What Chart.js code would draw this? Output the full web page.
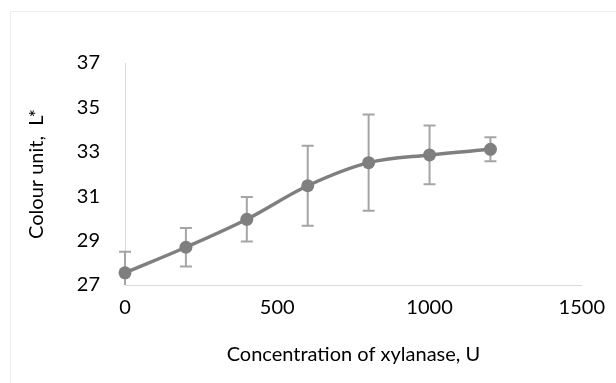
<!DOCTYPE html>
<html>
<head>
<meta charset="utf-8">
<script src="https://cdn.jsdelivr.net/npm/chart.js@4/dist/chart.umd.min.js"></script>
<style>
  html, body { margin: 0; padding: 0; background: #fff; }
  #wrap { width: 616px; height: 383px; position: relative; }
</style>
</head>
<body>
<div id="wrap"><canvas id="chart" width="616" height="383"></canvas></div>
<script>
// Data
const concentrations = [0, 200, 400, 600, 800, 1000, 1200];
const lValues = [27.55, 28.7, 29.96, 31.47, 32.51, 32.86, 33.11];
const lErrors = [0.95, 0.87, 1.0, 1.8, 2.17, 1.32, 0.54];
const xTicks = [0, 500, 1000, 1500];
const yTicks = [27, 29, 31, 33, 35, 37];

const lineGrey = '#7f7f7f';
const barGrey = '#a5a5a5';
const fontFamily = 'Lato, "Open Sans", sans-serif';

// error bars drawn through the chart scales, clipped to the plot area
const errorBars = {
  id: 'errorBars',
  beforeDatasetsDraw(chart) {
    const { ctx, chartArea, scales: { x, y } } = chart;
    ctx.save();
    ctx.beginPath();
    ctx.rect(chartArea.left - 10, chartArea.top, chartArea.right - chartArea.left + 20, chartArea.bottom - chartArea.top);
    ctx.clip();
    ctx.strokeStyle = barGrey;
    ctx.lineWidth = 2;
    concentrations.forEach((c, i) => {
      const px = x.getPixelForValue(c);
      const top = y.getPixelForValue(lValues[i] + lErrors[i]);
      const bot = y.getPixelForValue(lValues[i] - lErrors[i]);
      ctx.beginPath();
      ctx.moveTo(px, top); ctx.lineTo(px, bot);
      ctx.moveTo(px - 6, top); ctx.lineTo(px + 6, top);
      ctx.moveTo(px - 6, bot); ctx.lineTo(px + 6, bot);
      ctx.stroke();
    });
    ctx.restore();
  }
};

// faint chart border (only top-left corner visible in the crop)
const chartFrame = {
  id: 'chartFrame',
  beforeDraw(chart) {
    const ctx = chart.ctx;
    ctx.save();
    ctx.strokeStyle = '#eeeeee';
    ctx.lineWidth = 1;
    ctx.strokeRect(10.5, 11.5, 800, 600);
    ctx.restore();
  }
};

new Chart(document.getElementById('chart'), {
  type: 'scatter',
  data: {
    datasets: [{
      data: concentrations.map((c, i) => ({ x: c, y: lValues[i] })),
      showLine: true,
      borderColor: lineGrey,
      backgroundColor: lineGrey,
      borderWidth: 3.5,
      tension: 0.35,
      pointRadius: 6.5,
      pointHoverRadius: 6.5,
      pointBackgroundColor: lineGrey,
      pointBorderWidth: 0,
      clip: false
    }]
  },
  options: {
    responsive: false,
    animation: false,
    events: [],
    layout: { padding: { left: 0, top: 63, right: 22, bottom: 0 } },
    plugins: { legend: { display: false }, tooltip: { enabled: false } },
    scales: {
      x: {
        type: 'linear',
        min: 0, max: 1500,
        afterBuildTicks: s => { s.ticks = xTicks.map(v => ({ value: v })); },
        afterFit: s => { s.height = 98; },
        grid: { display: false, drawTicks: false },
        border: { display: true, color: '#d9d9d9', width: 1 },
        ticks: {
          color: '#000', padding: 11, maxRotation: 0,
          font: { family: fontFamily, size: 20 },
          callback: v => String(v)
        },
        title: {
          display: true,
          text: 'Concentration of xylanase, U',
          color: '#000',
          font: { family: fontFamily, size: 20 },
          padding: { top: 0, bottom: 16 }
        }
      },
      y: {
        type: 'linear',
        min: 27, max: 37,
        afterBuildTicks: s => { s.ticks = yTicks.map(v => ({ value: v })); },
        afterFit: s => { s.width = 125; },
        grid: { display: false, drawTicks: false },
        border: { display: true, color: '#d9d9d9', width: 1 },
        ticks: {
          color: '#000', padding: 25,
          font: { family: fontFamily, size: 20 },
          callback: v => String(v)
        },
        title: {
          display: true,
          text: 'Colour unit,  L*',
          color: '#000',
          font: { family: fontFamily, size: 20 },
          padding: { top: 25, bottom: 0 }
        }
      }
    }
  },
  plugins: [chartFrame, errorBars]
});
</script>
</body>
</html>
